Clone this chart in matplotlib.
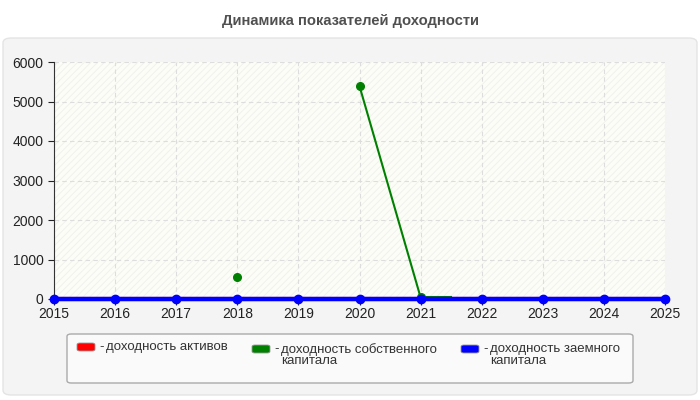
import numpy as np
import matplotlib
matplotlib.use('Agg')
import matplotlib.pyplot as plt
from matplotlib.patches import FancyBboxPatch

plt.rcParams['font.family'] = ['Liberation Sans', 'DejaVu Sans']
plt.rcParams['hatch.linewidth'] = 0.6

# Данные
years = [2015, 2016, 2017, 2018, 2019, 2020, 2021, 2022, 2023, 2024, 2025]
assets = [0, 0, 0, 0, 0, 0, 0, 0, 0, 0, 0]
equity = [np.nan, np.nan, np.nan, 560, np.nan, 5390, 40, np.nan, np.nan, np.nan, np.nan]
equity_tail_x = [2021, 2021.5]
equity_tail_y = [40, 40]
debt = [0, 0, 0, 0, 0, 0, 0, 0, 0, 0, 0]
labels = ['доходность активов', 'доходность собственного\nкапитала', 'доходность заемного\nкапитала']
colors = ['#ff0000', '#008000', '#0000ff']

fig = plt.figure(figsize=(7, 4), dpi=100)
fig.patch.set_facecolor('white')

# Серый фон-панель
panel = FancyBboxPatch((3 / 700, 5 / 400), 694 / 700, 357 / 400, boxstyle='round,pad=0,rounding_size=0.012',
                       transform=fig.transFigure, facecolor='#f4f4f4', edgecolor='#e4e4e4', linewidth=1, zorder=-10)
fig.patches.append(panel)

fig.text(0.5, 0.948, 'Динамика показателей доходности', ha='center', va='center',
         fontsize=10.6, fontweight='bold', color='#505050')

ax = fig.add_axes([54 / 700, 101 / 400, 611 / 700, 237 / 400])
ax.patch.set_facecolor('#fdfdf8')
ax.patch.set_hatch('/////')
ax.patch.set_edgecolor('#efefeb')

ax.plot(years, assets, color=colors[0], linewidth=3, marker='o', markersize=5, zorder=3, clip_on=False)
ax.plot(years, equity, color=colors[1], linewidth=1.5, marker='o', markersize=5.5, zorder=4, clip_on=False)
ax.plot(equity_tail_x, equity_tail_y, color=colors[1], linewidth=1.5, zorder=4)
ax.plot(years, debt, color=colors[2], linewidth=3.2, marker='o', markersize=6, zorder=5, clip_on=False)

ax.set_xlim(2015, 2025)
ax.set_ylim(0, 6000)
ax.set_xticks(years)
ax.set_yticks(range(0, 6001, 1000))
ax.grid(True, linestyle=(0, (4, 3)), color='#dddddd', linewidth=0.8)
ax.set_axisbelow(True)
for s in ['top', 'right']:
    ax.spines[s].set_visible(False)
ax.spines['left'].set_color('#333333')
ax.spines['bottom'].set_color('#333333')
ax.tick_params(axis='both', labelsize=10, colors='#222222', length=4)
ax.tick_params(axis='x', pad=2)

# Легенда
leg = FancyBboxPatch((67 / 700, 17 / 400), 566 / 700, 49 / 400, boxstyle='round,pad=0,rounding_size=0.006',
                     transform=fig.transFigure, facecolor='#fafafa', edgecolor='#aaaaaa', linewidth=1, zorder=1)
fig.patches.append(leg)
xs = [77, 252, 461]
ys = [49, 47, 47]
for x, y, lab, c in zip(xs, ys, labels, colors):
    fig.patches.append(FancyBboxPatch((x / 700, y / 400), 18 / 700, 8 / 400,
                                      boxstyle='round,pad=0,rounding_size=0.004', transform=fig.transFigure,
                                      facecolor=c, edgecolor='#999999', linewidth=0.6, zorder=2))
    fig.text((x + 22) / 700, (y + 10) / 400, '-', ha='left', va='top', fontsize=9.5, color='#333333')
    fig.text((x + 29) / 700, (y + 10) / 400, lab, ha='left', va='top', fontsize=9.5, color='#333333',
             linespacing=0.95)

plt.savefig('out.png', dpi=100)
